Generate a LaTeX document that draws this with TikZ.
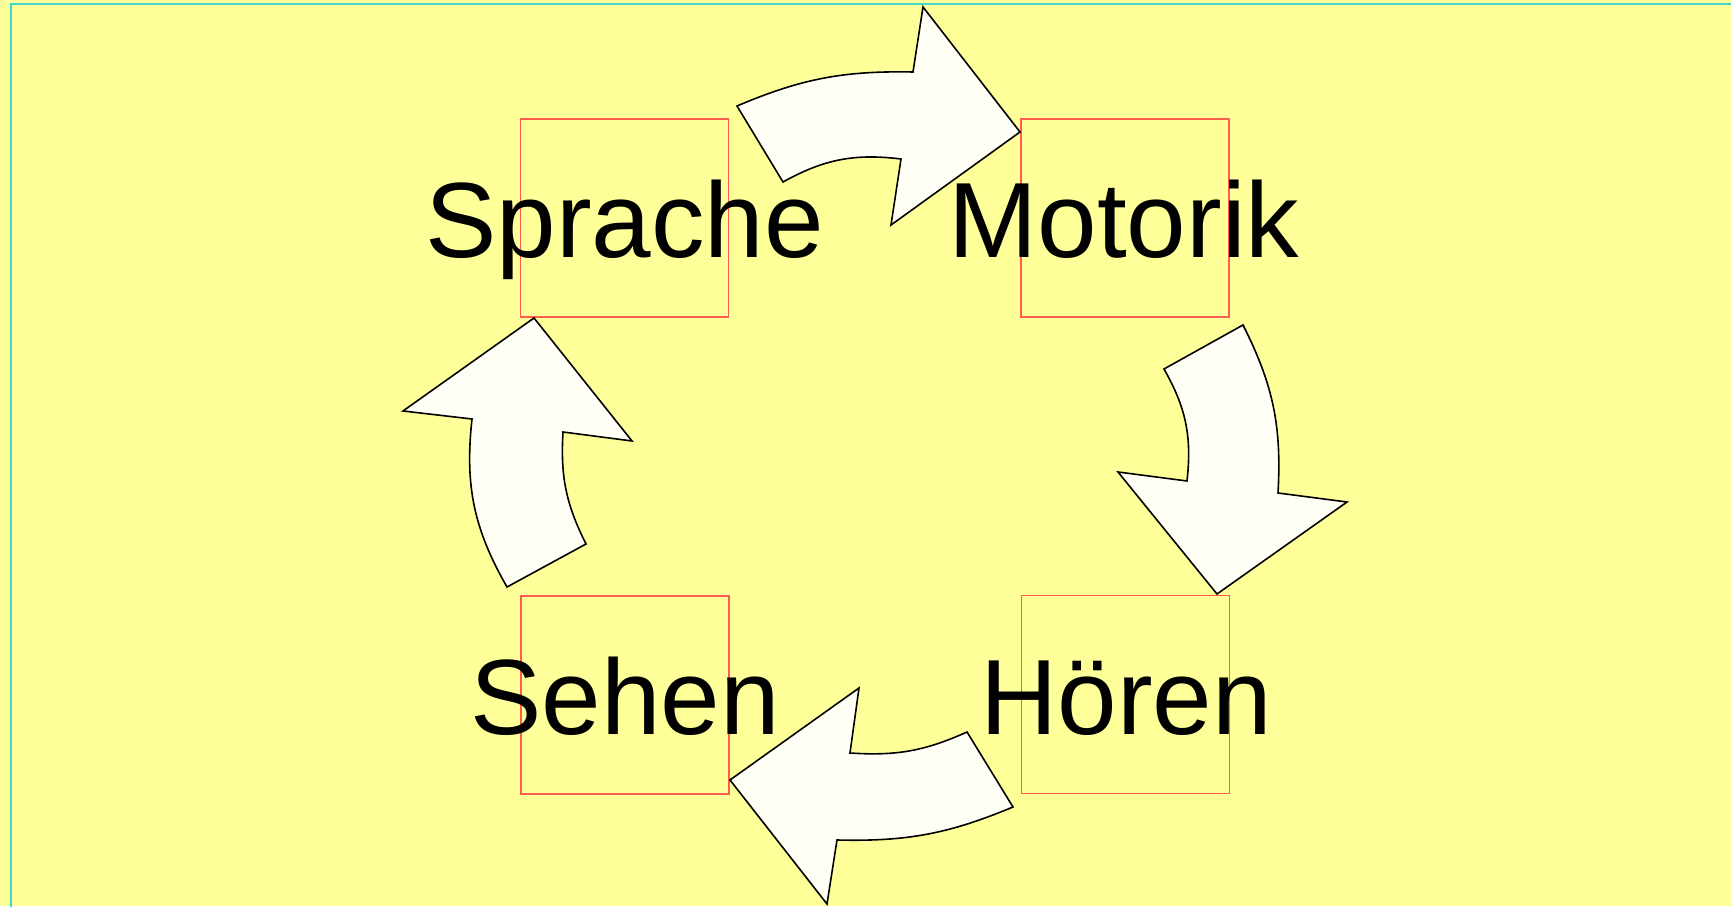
\documentclass[tikz,border=0pt]{standalone}
\usepackage{fontspec}
\setmainfont{Liberation Sans}
\definecolor{bgyellow}{RGB}{255,255,153}
\definecolor{frameteal}{RGB}{64,216,200}
\definecolor{boxred}{RGB}{255,92,80}
\definecolor{arrowfill}{RGB}{255,255,246}
\begin{document}
\begin{tikzpicture}[x=0.5pt,y=0.5pt,
  redbox/.style={draw=boxred, line width=0.8pt, minimum width=104pt, minimum height=99pt, inner sep=0pt, outer sep=0pt},
  label/.style={inner sep=0pt, anchor=base, font=\fontsize{53.5}{60}\selectfont},
  blockarrow/.style={draw=black, fill=arrowfill, line width=0.8pt, line join=miter}]
\useasboundingbox (0,0) rectangle (1731,906);
\clip (0,0) rectangle (1731,906);
\fill[bgyellow] (0,0) rectangle (1731,906);
\draw[frameteal, line width=1.1pt] (11,-20) -- (11,902) -- (1760,902);
% boxes
\node[redbox] (bsprache) at (624.5,688) {};
\node[redbox] (bmotorik) at (1125,688) {};
\node[redbox] (bhoeren)  at (1125.5,211.5) {};
\node[redbox] (bsehen)   at (625,211) {};
% arrows
\draw[blockarrow] (737,800) to[bend left=12] (913,834) -- (923,899) -- (1020,774) -- (891,681) -- (901,747) to[bend right=18] (783,724) -- cycle;
\draw[blockarrow] (1243,581) to[bend left=15] (1278,413) -- (1347,404) -- (1217,312) -- (1118,434) -- (1187,425) to[bend right=18] (1164,537) -- cycle;
\draw[blockarrow] (730,126) -- (859,218) -- (850,153) to[bend right=14] (967,174) -- (1013,99) to[bend left=12] (837,66) -- (827,2) -- cycle;
\draw[blockarrow] (534,588) -- (632,465) -- (563,474) to[bend right=15] (586,362) -- (507,319) to[bend left=18] (472,487) -- (403,495) -- cycle;
% labels
\node[label] (tsprache) at (624.5,648) {Sprache};
\node[label] (tmotorik) at (1124,648) {Motorik};
\node[label] (thoeren)  at (1126,171) {Hören};
\node[label] (tsehen)   at (625,171) {Sehen};
\end{tikzpicture}
\end{document}
